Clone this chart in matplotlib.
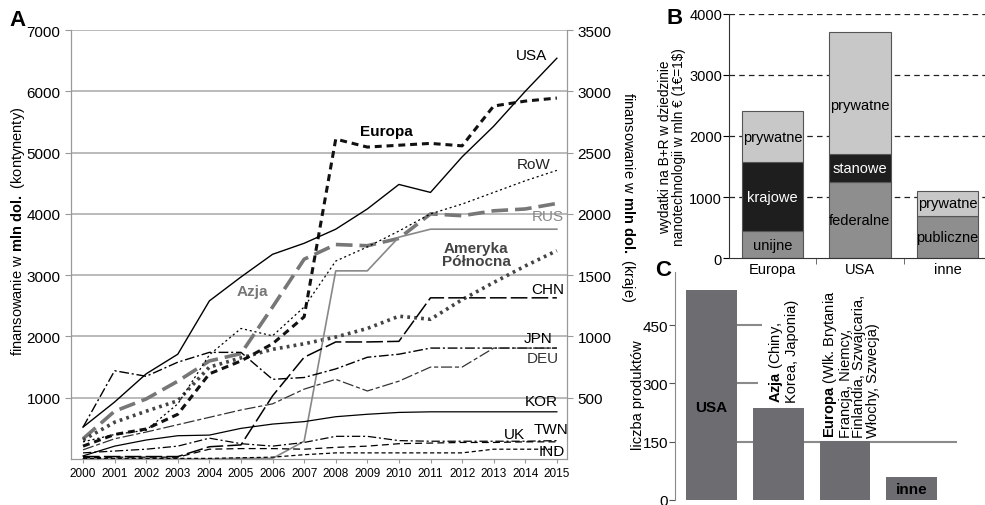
import numpy as np
import matplotlib.pyplot as plt
from matplotlib import font_manager as fm

names = {f.name for f in fm.fontManager.ttflist}
FONT = 'Liberation Sans Narrow' if 'Liberation Sans Narrow' in names else 'Liberation Sans'
plt.rcParams['font.family'] = [FONT, 'DejaVu Sans']
plt.rcParams['mathtext.fontset'] = 'custom'
plt.rcParams['mathtext.rm'] = FONT
plt.rcParams['mathtext.bf'] = FONT + ':bold'
plt.rcParams['lines.scale_dashes'] = False

# ---- panel A: finansowanie 2000-2015
years = np.arange(2000, 2016)
# kontynenty (lewa oś, mln dol.)
europa = [210, 400, 490, 730, 1390, 1600, 1880, 2320, 5220, 5090, 5120, 5150, 5110, 5760, 5840, 5890]
azja = [330, 780, 980, 1270, 1600, 1720, 2480, 3260, 3500, 3480, 3600, 4000, 3970, 4050, 4080, 4170]
ameryka = [310, 600, 780, 950, 1500, 1650, 1790, 1880, 1990, 2130, 2330, 2280, 2600, 2880, 3150, 3400]
# kraje (prawa oś, mln dol.)
usa = [260, 465, 695, 855, 1290, 1485, 1670, 1760, 1875, 2040, 2240, 2175, 2465, 2715, 3000, 3270]
row = [140, 200, 235, 450, 850, 1065, 1005, 1240, 1615, 1730, 1860, 2000, 2080, 2175, 2270, 2355]
rus = [0, 0, 0, 0, 0, 5, 5, 145, 1535, 1535, 1810, 1875, 1875, 1875, 1875, 1875]
chn = [20, 20, 20, 20, 100, 115, 515, 830, 955, 955, 960, 1315, 1315, 1315, 1315, 1315]
jpn = [260, 720, 675, 790, 870, 870, 650, 665, 735, 830, 855, 905, 905, 905, 905, 905]
deu = [75, 165, 220, 280, 340, 400, 450, 570, 650, 555, 635, 750, 750, 905, 905, 905]
kor = [25, 105, 155, 190, 195, 250, 285, 305, 345, 365, 380, 385, 385, 385, 385, 385]
uk = [50, 65, 80, 105, 170, 125, 105, 135, 185, 185, 150, 145, 145, 145, 145, 150]
twn = [10, 15, 15, 15, 80, 85, 85, 80, 95, 105, 125, 130, 135, 135, 140, 140]
ind = [5, 5, 5, 5, 5, 10, 15, 35, 50, 50, 50, 50, 50, 80, 80, 80]

# ---- panel B: wydatki na B+R
b_regions = ['Europa', 'USA', 'inne']
b_low = [440, 1245, 690]
b_low_names = ['unijne', 'federalne', 'publiczne']
b_mid = [1130, 460, 0]
b_mid_names = ['krajowe', 'stanowe', '']
b_top = [840, 2000, 410]
b_top_names = ['prywatne', 'prywatne', 'prywatne']

# ---- panel C: liczba produktów
c_regions = ['USA', 'Azja', 'Europa', 'inne']
c_counts = [540, 237, 152, 59]

fig = plt.figure(figsize=(9.85, 5.06), dpi=100)

# ================= A
ax = fig.add_axes([0.0721, 0.0909, 0.5035, 0.8478])
ax2 = ax.twinx()
grid_c = '#b4b4b4'
for a in (ax, ax2):
    a.spines['top'].set_visible(False)
    for s in ('left', 'right', 'bottom'):
        a.spines[s].set_color('#999999')
ax.set_xlim(1999.62, 2015.32)
ax.set_ylim(0, 7000)
ax2.set_ylim(0, 3500)
ax.set_yticks(range(1000, 7001, 1000))
ax2.set_yticks(range(500, 3501, 500))
ax.set_xticks(years)
ax.tick_params(axis='x', labelsize=8.5, length=3, color='#999999', pad=3)
ax.tick_params(axis='y', labelsize=11, length=4, color='#999999')
ax2.tick_params(axis='y', labelsize=11, length=4, color='#999999')
for v in range(1000, 7001, 1000):
    ax.axhline(v, color=grid_c, lw=1.3, zorder=0)

def line(a, y, color, lw, dashes=None):
    l, = a.plot(years, y, color=color, lw=lw)
    if dashes:
        l.set_dashes(dashes)

line(ax, azja, '#777777', 2.6, (12, 5))
line(ax, ameryka, '#444444', 2.6, (2, 3))
line(ax, europa, '#111111', 2.2, (5, 3.5))

line(ax2, usa, 'black', 1.0)
line(ax2, row, 'black', 0.9, (1.5, 2))
line(ax2, rus, '#888888', 1.2)
line(ax2, chn, 'black', 1.1, (12, 3))
line(ax2, jpn, 'black', 1.0, (7, 2, 1.5, 2))
line(ax2, deu, '#333333', 0.9, (8, 2, 3, 2))
line(ax2, kor, 'black', 0.9)
line(ax2, uk, 'black', 0.9, (6, 2, 1.5, 2))
line(ax2, twn, 'black', 0.9, (5, 3))
line(ax2, ind, 'black', 0.9, (3, 2))

lab = dict(fontsize=11, ha='center', va='center', transform=ax.transData, zorder=5)
ax2.text(2014.2, 6600, 'USA', color='black', **lab)
ax2.text(2009.6, 5350, 'Europa', color='black', fontweight='bold', **lab)
ax2.text(2014.25, 4810, 'RoW', color='#222222', **lab)
ax2.text(2014.7, 3960, 'RUS', color='#888888', **lab)
ax2.text(2005.35, 2740, 'Azja', color='#777777', fontweight='bold', **lab)
ax2.text(2012.45, 3330, 'Ameryka\nPółnocna', color='#444444', fontweight='bold',
         linespacing=0.9, **lab)
ax2.text(2014.7, 2770, 'CHN', color='black', **lab)
ax2.text(2014.4, 1970, 'JPN', color='black', **lab)
ax2.text(2014.55, 1650, 'DEU', color='#333333', **lab)
ax2.text(2014.5, 950, 'KOR', color='black', **lab)
ax2.text(2014.8, 490, 'TWN', color='black', **lab)
ax2.text(2013.65, 410, 'UK', color='black', **lab)
ax2.text(2014.85, 130, 'IND', color='black', **lab)

fig.text(18 / 985, 1 - 231 / 506, r'finansowanie w $\mathbf{mln\ dol.}$ (kontynenty)',
         fontsize=10.5, rotation=90, ha='center', va='center')
fig.text(628 / 985, 1 - 197 / 506, r'finansowanie w $\mathbf{mln\ dol.}$ (kraje)',
         fontsize=10.5, rotation=270, ha='center', va='center')

# ================= B
axb = fig.add_axes([0.7401, 0.4881, 0.2599, 0.4823])
xb = np.arange(len(b_regions))
w = 0.70
light, dark, mid = '#c8c8c8', '#1e1e1e', '#8e8e8e'
for v in range(1000, 4001, 1000):
    gl = axb.axhline(v, color='#222222', lw=0.9, zorder=0)
    gl.set_dashes((4, 3))
low = np.array(b_low)
midv = np.array(b_mid)
top = np.array(b_top)
axb.bar(xb, low, w, color=mid, edgecolor='#555555', lw=0.8, zorder=2)
axb.bar(xb, midv, w, bottom=low, color=dark, edgecolor='#555555', lw=0.8, zorder=2)
axb.bar(xb, top, w, bottom=low + midv, color=light, edgecolor='#555555', lw=0.8, zorder=2)
for i in range(len(b_regions)):
    axb.text(xb[i], low[i] / 2, b_low_names[i], ha='center', va='center', fontsize=10.5, zorder=3)
    if midv[i]:
        axb.text(xb[i], low[i] + midv[i] / 2, b_mid_names[i], ha='center', va='center',
                 fontsize=10.5, color='white', zorder=3)
    axb.text(xb[i], low[i] + midv[i] + top[i] * (0.4 if top[i] > 1500 else 0.5),
             b_top_names[i], ha='center', va='center', fontsize=10.5, zorder=3)
axb.set_xlim(-0.497, 2.43)
axb.set_ylim(0, 4000)
axb.set_yticks(range(0, 4001, 1000))
axb.set_xticks(xb)
axb.set_xticklabels(b_regions)
axb.set_xticks([0.5, 1.5], minor=True)
axb.tick_params(axis='x', which='major', length=0, labelsize=10.5, pad=3)
axb.tick_params(axis='x', which='minor', length=4, color='#555555')
axb.tick_params(axis='y', labelsize=10.5, length=4, pad=1)
for s in ('top', 'right'):
    axb.spines[s].set_visible(False)
axb.spines['left'].set_color('#333333')
axb.spines['bottom'].set_color('#333333')
fig.text(672 / 985, 1 - 147 / 506, 'wydatki na B+R w dziedzinie\nnanotechnologii w mln € (1€=1$)',
         fontsize=9.8, rotation=90, ha='center', va='center', linespacing=1.0)

# ================= C
axc = fig.add_axes([0.6853, 0.0099, 0.2893, 0.4506])
axc.patch.set_visible(False)
xc = np.arange(len(c_regions))
wc = 0.76
bar_c = '#6c6c71'
axc.hlines([450, 300], wc / 2, [0.754, 0.694], color='#8a8a8a', lw=1.5, zorder=0)
axc.hlines([150], wc / 2, 3.68, color='#8a8a8a', lw=1.5, zorder=0)
axc.bar(xc, c_counts, wc, color=bar_c, zorder=2)
axc.set_xlim(-0.545, 3.72)
axc.set_ylim(0, 587)
axc.set_yticks([0, 150, 300, 450])
axc.set_xticks([])
axc.tick_params(axis='y', labelsize=11, length=4, pad=1, color='#555555')
for s in ('top', 'right', 'bottom'):
    axc.spines[s].set_visible(False)
axc.spines['left'].set_color('#888888')
axc.text(xc[0], 239, 'USA', ha='center', va='center', fontsize=11, fontweight='bold')
axc.text(xc[3], 28, 'inne', ha='center', va='center', fontsize=11, fontweight='bold')
axc.text(xc[1] + 0.07, c_counts[1] + 15, '$\\mathbf{Azja}$ (Chiny,\nKorea, Japonia)',
         rotation=90, ha='center', va='bottom', multialignment='left', fontsize=10.5,
         linespacing=0.95)
axc.text(xc[2] + 0.08, c_counts[2] + 10,
         '$\\mathbf{Europa}$ (Wlk. Brytania\nFrancja, Niemcy,\nFinlandia, Szwajcaria,\nWłochy, Szwecja)',
         rotation=90, ha='center', va='bottom', multialignment='left', fontsize=10.5,
         linespacing=0.95)
fig.text(638 / 985, 1 - 395 / 506, 'liczba produktów', fontsize=10.5, rotation=90,
         ha='center', va='center')

# panel letters
fig.text(18 / 985, 1 - 21 / 506, 'A', fontsize=16, fontweight='bold', ha='center', va='center')
fig.text(675 / 985, 1 - 19 / 506, 'B', fontsize=16, fontweight='bold', ha='center', va='center')
fig.text(663 / 985, 1 - 270 / 506, 'C', fontsize=16, fontweight='bold', ha='center', va='center')

fig.savefig('out.png', dpi=100, facecolor='white')
